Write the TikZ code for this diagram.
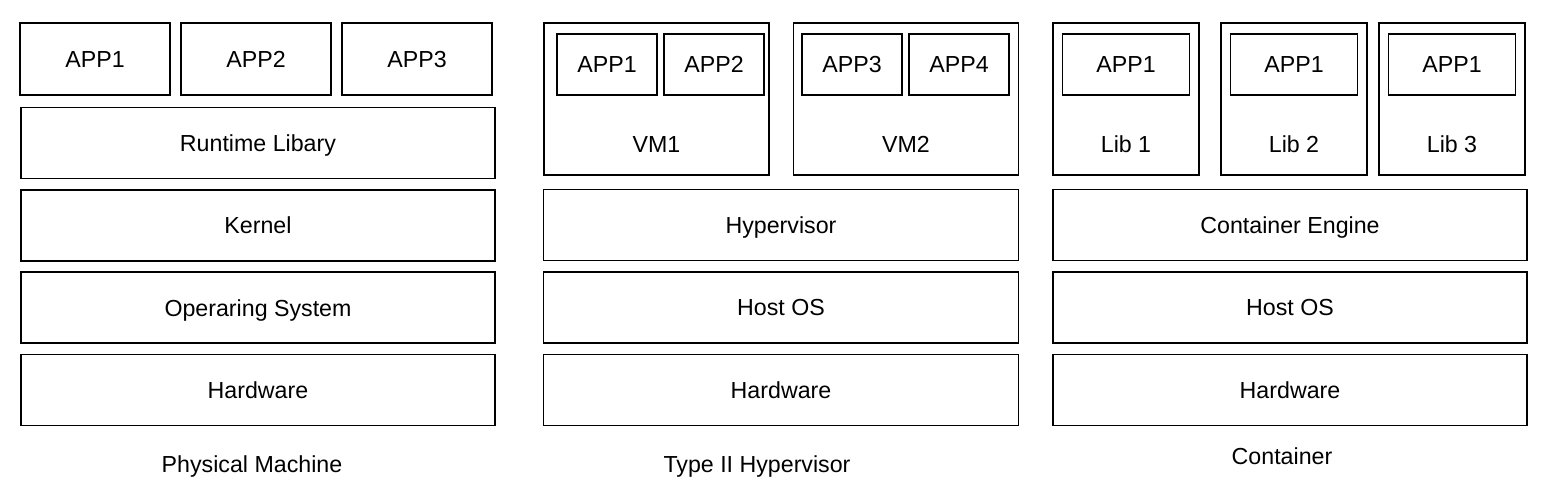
\documentclass[tikz,border=0pt]{standalone}
\usepackage{fontspec}
\setmainfont{Liberation Sans}
\begin{document}
\begin{tikzpicture}[x=0.5pt, y=-0.5pt, line width=0.8pt, font=\fontsize{11.6}{14}\selectfont,
	every node/.style={text height=1.9ex, text depth=0.3ex},
	layer/.style={draw, minimum width=237pt, minimum height=35.5pt, inner sep=0pt},
	app/.style={draw, minimum width=50pt, minimum height=30.5pt, inner sep=0pt},
	guest/.style={draw, minimum height=76pt, inner sep=0pt}]

\useasboundingbox (0,0) rectangle (1546,496);

%physical machine
\foreach \t [count=\i] in {APP1,APP2,APP3}
	\node [app, minimum width=75pt, minimum height=36pt] (pm-app\i) at ({95+(\i-1)*161},59) {\t};
\foreach \t [count=\i] in {Runtime Libary,Kernel,Operaring System,Hardware}
	\node [layer] (pm-\i) at (258,{143+(\i-1)*82.3}) {\t};
\node (pm-name) at (252,464) {Physical Machine};

%type II hypervisor
\foreach \x [count=\i] in {656.5,906}{
	\node [guest, minimum width=112.5pt] (vm\i) at (\x,99) {};
	\node (vm\i-name) at (\x,144) {VM\i};
}
\foreach \x [count=\i] in {607,714,852,959}
	\node [app] (hv-app\i) at (\x,64.5) {APP\i};
\foreach \t [count=\i] in {Hypervisor,Host OS,Hardware}
	\node [layer, minimum width=237.5pt] (hv-\i) at (781,{225+(\i-1)*82.5}) {\t};
\node (hv-name) at (757,464) {Type II Hypervisor};

%container
\foreach \x [count=\i] in {1126,1294,1452}{
	\node [guest, minimum width=73pt] (ct\i) at (\x,99) {};
	\node [app, minimum width=63.5pt] (ct-app\i) at (\x,64.5) {APP1};
	\node (ct-lib\i) at (\x,144) {Lib \i};
}
\foreach \t [count=\i] in {Container Engine,Host OS,Hardware}
	\node [layer] (ct-\i) at (1290,{225+(\i-1)*82.5}) {\t};
\node (ct-name) at (1282,456) {Container};

\end{tikzpicture}
\end{document}
